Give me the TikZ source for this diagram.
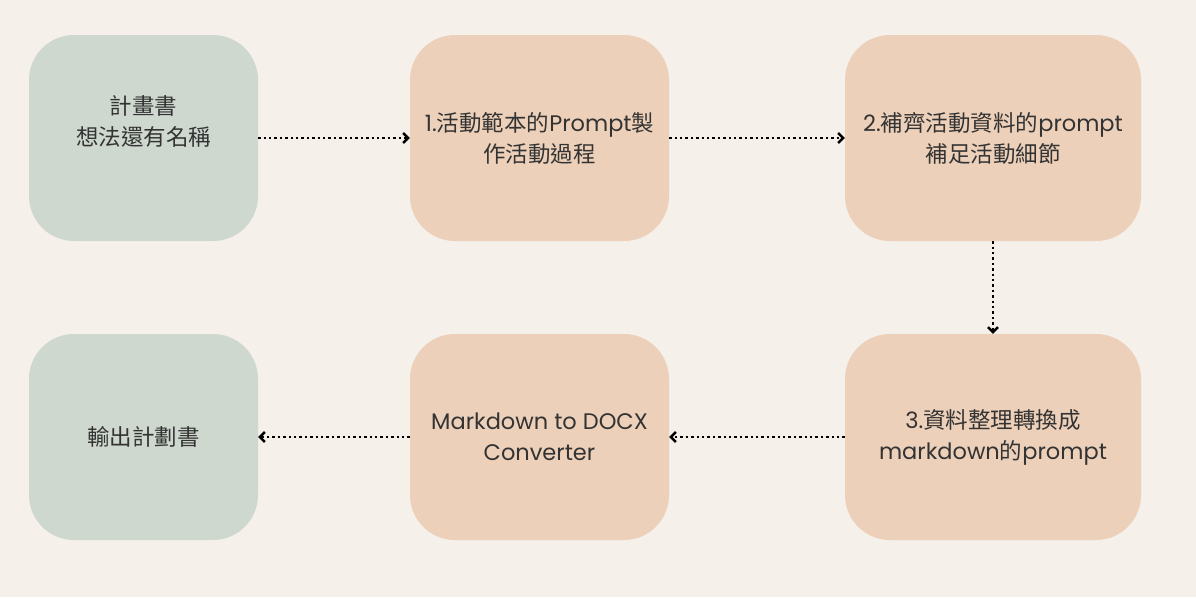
\documentclass[tikz,border=0pt]{standalone}
\usepackage{fontspec}
\setmainfont{Poppins}
\newfontfamily\cjk{Noto Sans CJK TC}
\usetikzlibrary{arrows.meta}
\definecolor{paper}{HTML}{F5F0EA}
\definecolor{sage}{HTML}{CED8CF}
\definecolor{peach}{HTML}{EDD0B9}
\definecolor{ink}{HTML}{333333}

\begin{document}
\begin{tikzpicture}
          [x=1pt,y=-1pt,
           box/.style={rectangle, rounded corners=45pt, minimum height=206pt, inner sep=0pt, align=center, text=ink, font=\fontsize{22.5}{31}\selectfont},
           endbox/.style={box, fill=sage, minimum width=229pt},
           stepbox/.style={box, fill=peach},
           flow/.style={line width=2.4pt, dash pattern=on 2.4pt off 3pt, -{Straight Barb[length=5pt,width=10pt,line width=2.4pt]}}]
        \fill[paper] (0,0) rectangle (1196,597);
        % top row
        \node (plan) [endbox] at (143.5,138) {};
        \node (plantext) [box, minimum height=0pt] at (143.5,121) {{\cjk 計畫書}\\{\cjk 想法還有名稱}};
        \node (template) [stepbox, minimum width=259pt] at (539.5,138) {1.{\cjk 活動範本的}Prompt{\cjk 製}\\{\cjk 作活動過程}};
        \node (details) [stepbox, minimum width=296pt] at (993,138) {2.{\cjk 補齊活動資料的}prompt\\{\cjk 補足活動細節}};
        % bottom row
        \node (convert) [stepbox, minimum width=296pt] at (993,437) {3.{\cjk 資料整理轉換成}\\markdown{\cjk 的}prompt};
        \node (docx) [stepbox, minimum width=259pt] at (539.5,437) {Markdown to DOCX\\Converter};
        \node (output) [endbox] at (143.5,437) {\cjk 輸出計劃書};
        % arrows
        \draw[flow] (plan.east) -- (template.west);
        \draw[flow] (template.east) -- (details.west);
        \draw[flow] (details.south) -- (convert.north);
        \draw[flow] (convert.west) -- (docx.east);
        \draw[flow] (docx.west) -- (output.east);
\end{tikzpicture}
\end{document}
